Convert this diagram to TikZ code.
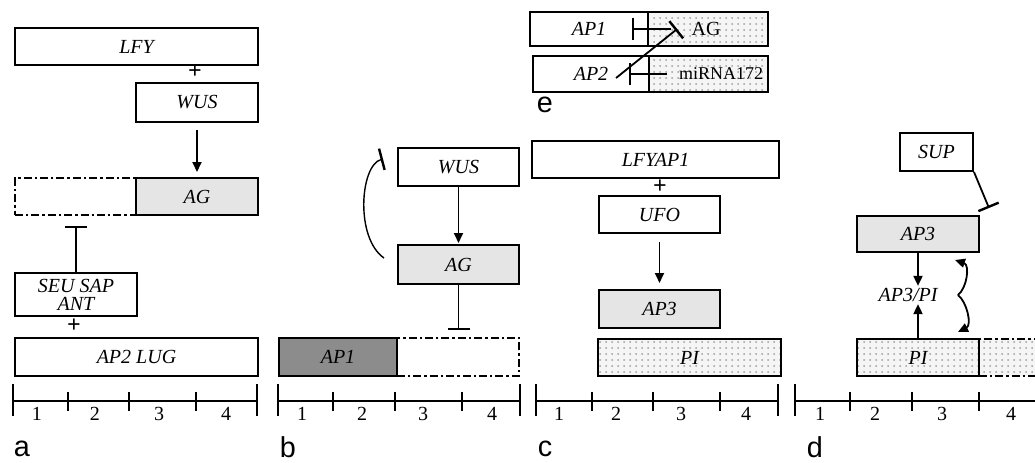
\documentclass[tikz,border=0pt]{standalone}
\usepackage{fontspec}
\setmainfont{Liberation Serif}
\setsansfont{Liberation Sans}
\usetikzlibrary{arrows.meta, patterns, positioning}

\tikzset{
  gene/.style={rectangle, draw, line width=1pt, inner sep=0pt, anchor=north west, font=\itshape},
  lit/.style={gene, fill=gray!20},
  dark/.style={gene, fill=black!45},
  speck/.style={gene, preaction={fill=gray!8}, pattern=dots, pattern color=gray!75},
  ghost/.style={gene, dash pattern=on 4pt off 1.5pt on 1.2pt off 1.5pt},
  act/.style={line width=0.9pt, -{Triangle[length=5pt, width=4.5pt]}},
  inh/.style={line width=0.9pt, -{Bar[width=11pt, line width=1.2pt]}},
  plus/.style={font=\large\bfseries, inner sep=0pt},
  tick/.style={line width=1pt},
  num/.style={inner sep=0pt},
  panel/.style={font=\Large\sffamily, inner sep=0pt}
}

\begin{document}
\begin{tikzpicture}[x=0.5pt, y=-0.5pt]
    \useasboundingbox (0,0) rectangle (1035,462);

    % a
    \node [ghost, minimum width=60.5pt, minimum height=18.5pt] (emptyA) at (14,177) {};
    \node [gene, minimum width=121.5pt, minimum height=18.5pt] (lfyA) at (14,27) {LFY};
    \node [gene, minimum width=61pt, minimum height=19.5pt] (wusA) at (135,82) {WUS};
    \node [lit, minimum width=61pt, minimum height=18.5pt] (agA) at (135,177) {AG};
    \node [gene, minimum width=61pt, minimum height=21.5pt, align=center] (seuA) at (14,272) {SEU SAP\\[-3pt]ANT};
    \node [gene, minimum width=121.5pt, minimum height=19pt] (ap2A) at (14,337) {AP2 LUG};
    \node [plus] (plusA1) at (195,72) {+};
    \node [plus] (plusA2) at (74,326) {+};
    \draw [act, shorten <=3.5pt, shorten >=2.5pt] (wusA) -- (agA);
    \draw [inh, shorten >=5pt] (seuA) -- (seuA |- emptyA.south);

    % b
    \node [gene, minimum width=60.5pt, minimum height=19pt] (wusB) at (397,147) {WUS};
    \node [lit, minimum width=60.5pt, minimum height=19.5pt] (agB) at (397,244) {AG};
    \node [ghost, minimum width=61pt, minimum height=19pt] (emptyB) at (396,337) {};
    \node [dark, minimum width=59pt, minimum height=19pt] (ap1B) at (278,337) {AP1};
    \draw [act, shorten >=0.5pt] (wusB) -- (agB);
    \draw [inh, shorten >=3.5pt] (agB) -- (agB |- emptyB.north);
    \draw [inh, line width=0.7pt] ([shift={(-6.5pt,3.25pt)}]agB.west) .. controls (355,238) and (360,165) .. ([shift={(-7pt,4pt)}]wusB.west);

    % c
    \node [gene, minimum width=123.5pt, minimum height=18.5pt] (lfyC) at (531,140) {LFYAP1};
    \node [plus] (plusC) at (660,187) {+};
    \node [gene, minimum width=60.5pt, minimum height=18.5pt] (ufoC) at (598,195) {UFO};
    \node [lit, minimum width=60.5pt, minimum height=19pt] (ap3C) at (598,289) {AP3};
    \node [speck, minimum width=91.5pt, minimum height=18.5pt] (piC) at (597,338) {PI};
    \draw [act, shorten <=4pt, shorten >=3pt] (ufoC) -- (ap3C);

    % d
    \node [gene, minimum width=36.5pt, minimum height=19pt] (supD) at (899,132) {SUP};
    \node [lit, minimum width=61pt, minimum height=18pt] (ap3D) at (856,215) {AP3};
    \node [ghost, speck, minimum width=31pt, minimum height=18.5pt] (emptyD) at (978,338) {};
    \node [speck, minimum width=61pt, minimum height=18.5pt] (piD) at (856,338) {PI};
    \node [font=\itshape, inner sep=1pt] (dimerD) at (908,295) {AP3/PI};
    \draw [inh] (supD.south east) -- ([shift={(4.5pt,3.5pt)}]ap3D.north east);
    \draw [act] (ap3D) -- (ap3D |- dimerD.north);
    \draw [act] (piD) -- (piD |- dimerD.south);
    \coordinate (braceD) at (958,295);
    \draw [act] (braceD) .. controls (967,288) and (970,265) .. ([shift={(-12.5pt,-3.5pt)}]ap3D.south east);
    \draw [act] (braceD) .. controls (967,302) and (972,325) .. ([shift={(-11pt,3pt)}]piD.north east);

    % e
    \node [gene, minimum width=59pt, minimum height=17pt] (ap1E) at (529,11) {AP1};
    \node [speck, minimum width=60pt, minimum height=17pt] (agE) at (647,11) {};
    \node [gene, minimum width=58pt, minimum height=18pt] (ap2E) at (532,55) {AP2};
    \node [speck, minimum width=59.5pt, minimum height=18pt] (mirE) at (648,55) {};
    \node [inner sep=1pt] (agT) at (706,29) {AG};
    \node [font=\small, inner sep=1pt] (mirT) at (721,74) {miRNA172};
    \draw [inh] ([xshift=-9pt]agT.west) -- ([xshift=-8.5pt]ap1E.east);
    \draw [inh] ([shift={(-17pt,-2pt)}]ap2E.east) -- ([xshift=-6pt]agT.west);
    \draw [inh] ([xshift=-5pt]mirT.west) -- ([xshift=-10.5pt]ap2E.east);

    % scales
    \draw [tick] (13,401) -- (257,401) (13,384) -- (13,416) (257,384) -- (257,416);
    \foreach \x in {68,129,196} \draw [tick] (\x,392) -- (\x,411);
    \foreach \x/\n in {37/1,95/2,159/3,226/4} \node [num] (numA\n) at (\x,414) {\n};

    \draw [tick] (278,401) -- (520,401) (278,384) -- (278,416) (520,384) -- (520,416);
    \foreach \x in {333,395,462} \draw [tick] (\x,392) -- (\x,411);
    \foreach \x/\n in {302/1,362/2,423/3,492/4} \node [num] (numB\n) at (\x,414) {\n};

    \draw [tick] (536,401) -- (778,401) (536,384) -- (536,416) (778,384) -- (778,416);
    \foreach \x in {592,653,720} \draw [tick] (\x,392) -- (\x,411);
    \foreach \x/\n in {559/1,616/2,681/3,746/4} \node [num] (numC\n) at (\x,414) {\n};

    \draw [tick] (795,401) -- (1040,401) (795,384) -- (795,416);
    \foreach \x in {850,912,979} \draw [tick] (\x,392) -- (\x,411);
    \foreach \x/\n in {820/1,875/2,942/3,1011/4} \node [num] (numD\n) at (\x,414) {\n};

    % labels
    \node [panel] (labA) at (22,449) {a};
    \node [panel] (labB) at (288,447) {b};
    \node [panel] (labC) at (545,449) {c};
    \node [panel] (labD) at (815,447) {d};
    \node [panel] (labE) at (545,105) {e};
\end{tikzpicture}
\end{document}
